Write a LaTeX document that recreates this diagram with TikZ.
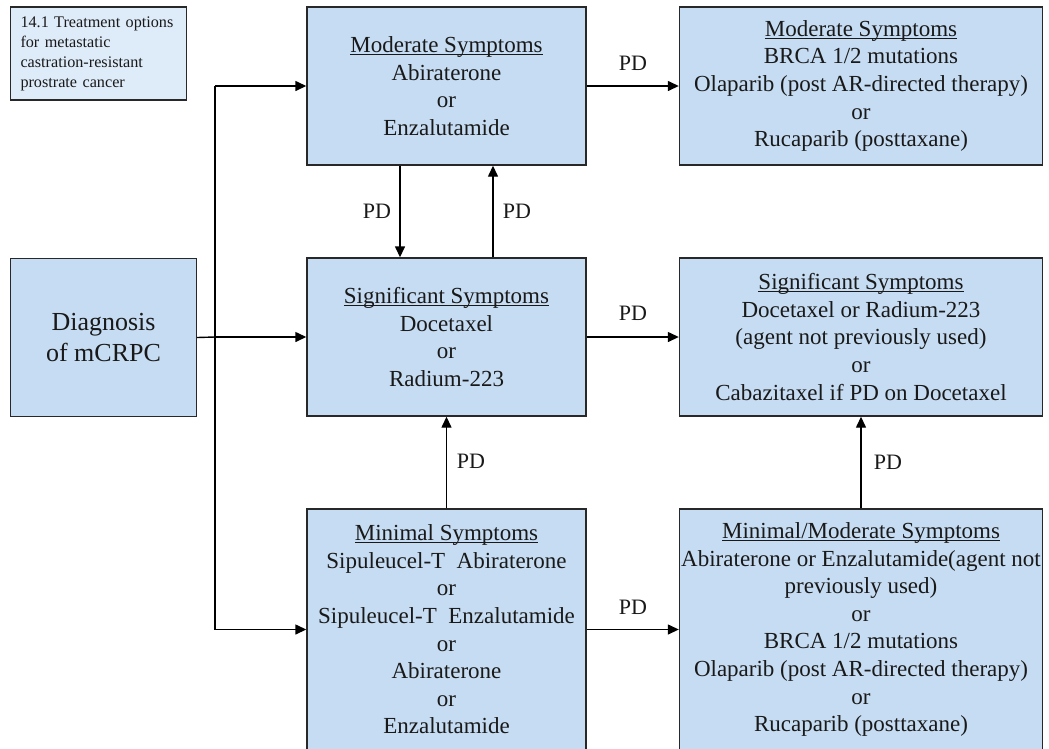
\documentclass[tikz,border=0pt]{standalone}
\usepackage{fontspec}
\setmainfont{Liberation Serif}
\usetikzlibrary{arrows.meta}
\definecolor{boxblue}{RGB}{198,220,242}
\definecolor{noteblue}{RGB}{222,235,248}
\definecolor{edge}{RGB}{40,40,40}
\definecolor{ink}{RGB}{25,25,25}
% heading with a rule just under the baseline
\newsavebox\hdrbox
\newcommand\hdr[1]{\sbox\hdrbox{#1}\rlap{\rule[-2.6pt]{\wd\hdrbox}{1.2pt}}\usebox\hdrbox}
\begin{document}
\begin{tikzpicture}[x=1pt,y=-1pt,
  box/.style={draw=edge, line width=1.4pt, fill=boxblue, inner sep=0pt, text=ink,
    align=center, font=\fontsize{23}{27.6}\selectfont},
  conn/.style={draw=black, line width=1.4pt, -{Triangle[length=11pt,width=10pt]}},
  plain/.style={draw=black, line width=1.4pt},
  lbl/.style={font=\fontsize{22}{24}\selectfont, inner sep=0pt, text=ink}]
\useasboundingbox (0,0) rectangle (1049,748);
\clip (0,0) rectangle (1049,748);

% title note
\node[draw=edge, line width=1.4pt, fill=noteblue, minimum width=176pt, minimum height=93pt,
  text width=156pt, align=left, inner sep=0pt, text=ink, font=\fontsize{16.2}{20}\selectfont]
  (note) at (98.5,53.5) {14.1 Treatment options\\for metastatic\\castration-resistant\\prostrate cancer};

% diagnosis
\node[box, minimum width=186pt, minimum height=158pt, font=\fontsize{26}{31}\selectfont]
  (diag) at (103.5,337.5) {Diagnosis\\of mCRPC};

% first-line column
\node[box, minimum width=279pt, minimum height=158pt] (modA) at (446.5,86)
  {\hdr{Moderate Symptoms}\\Abiraterone\\or\\Enzalutamide};
\node[box, minimum width=279pt, minimum height=158pt] (sigA) at (446.5,337)
  {\hdr{Significant Symptoms}\\Docetaxel\\or\\Radium-223};
\node[box, minimum width=279pt, minimum height=241pt] (minA) at (446.5,629.5)
  {\hdr{Minimal Symptoms}\\Sipuleucel-T\ \ Abiraterone\\or\\Sipuleucel-T\ \ Enzalutamide\\or\\Abiraterone\\or\\Enzalutamide};

% subsequent-line column
\node[box, minimum width=363pt, minimum height=158pt] (modB) at (861,86)
  {\hdr{Moderate Symptoms}\\BRCA 1/2 mutations\\Olaparib (post AR-directed therapy)\\or\\Rucaparib (posttaxane)};
\node[box, minimum width=363pt, minimum height=158pt] (sigB) at (861,337)
  {\hdr{Significant Symptoms}\\Docetaxel or Radium-223\\(agent not previously used)\\or\\Cabazitaxel if PD on Docetaxel};
\node[box, minimum width=363pt, minimum height=241pt] (minB) at (861,629.5)
  {\hdr{Minimal/Moderate Symptoms}\\Abiraterone or Enzalutamide(agent not\\previously used)\\or\\BRCA 1/2 mutations\\Olaparib (post AR-directed therapy)\\or\\Rucaparib (posttaxane)};

% branching trunk
\coordinate (jt) at (215,86);
\coordinate (jm) at (215,337);
\coordinate (jb) at (215,629.5);
\draw[plain] (jt) -- (jb);
\draw[plain] (diag.east) -- (jm);
\draw[conn] (jt) -- (modA.west);
\draw[conn] (jm) -- (sigA.west);
\draw[conn] (jb) -- (minA.west);

% progression arrows
\draw[conn] ([xshift=-46.5pt]modA.south) -- ([xshift=-46.5pt]sigA.north);
\draw[conn] ([xshift=46.5pt]sigA.north) -- ([xshift=46.5pt]modA.south);
\draw[conn] (minA.north) -- (sigA.south);
\draw[conn] (modA.east) -- (modB.west);
\draw[conn] (sigA.east) -- (sigB.west);
\draw[conn] (minA.east) -- (minB.west);
\draw[conn] (minB.north) -- (sigB.south);

% arrow labels
\node[lbl] (pd1) at (377,211) {PD};
\node[lbl] (pd2) at (517,211) {PD};
\node[lbl] (pd3) at (633,63) {PD};
\node[lbl] (pd4) at (633,313) {PD};
\node[lbl] (pd5) at (633,607) {PD};
\node[lbl] (pd6) at (471,461) {PD};
\node[lbl] (pd7) at (888,462) {PD};
\end{tikzpicture}
\end{document}
